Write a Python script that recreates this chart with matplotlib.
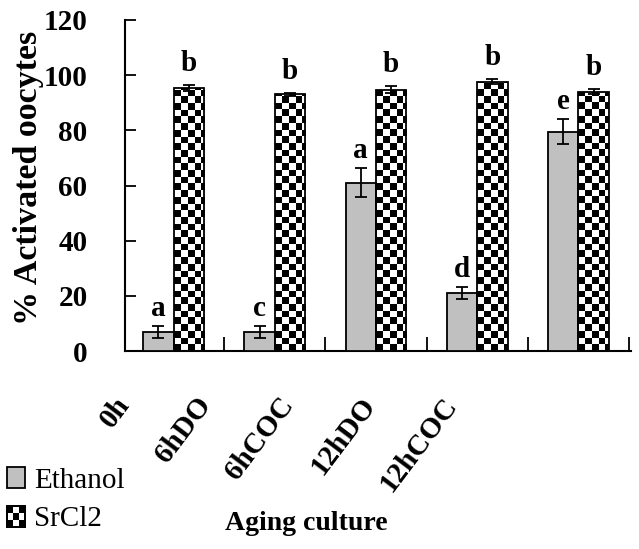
import numpy as np
import matplotlib
matplotlib.use('Agg')
import matplotlib.pyplot as plt
from matplotlib.patches import Rectangle, Patch
from matplotlib.legend_handler import HandlerBase

categories = ['0h', '6hDO', '6hCOC', '12hDO', '12hCOC']
ethanol = [7, 7, 61, 21, 79.5]
ethanol_err = [2.2, 2.2, 5.3, 2.2, 4.6]
srcl2 = [95.3, 93, 94.8, 97.7, 94]
srcl2_err = [1.0, 0.5, 1.2, 1.0, 1.0]
ethanol_letters = ['a', 'c', 'a', 'd', 'e']
srcl2_letters = ['b', 'b', 'b', 'b', 'b']

plt.rcParams['font.family'] = ['Liberation Serif', 'DejaVu Serif']

W, H = 639, 549
fig = plt.figure(figsize=(W / 100, H / 100), dpi=100)
ax = fig.add_axes([125 / W, 1 - 351 / H, (631 - 125) / W, (351 - 20) / H])
ax.set_xlim(-0.48, 4.52)
ax.set_ylim(0, 120)

x = np.arange(len(categories))
bw = 0.3
gray = '#c0c0c0'

ax.bar(x - bw / 2, ethanol, bw, color=gray, edgecolor='black', linewidth=1.3, zorder=3)
sr_bars = ax.bar(x + bw / 2, srcl2, bw, facecolor='none', edgecolor='black', linewidth=1.3, zorder=3)

# checkerboard fill for SrCl2 bars, clipped to each bar
cell = 6.7
for b in sr_bars:
    x0, y0 = b.get_x(), b.get_y()
    w, h = b.get_width(), b.get_height()
    p0 = ax.transData.transform((x0, y0))
    p1 = ax.transData.transform((x0 + w, y0 + h))
    nx = int(np.ceil((p1[0] - p0[0]) / cell))
    ny = int(np.ceil((p1[1] - p0[1]) / cell))
    dx = w / ((p1[0] - p0[0]) / cell)
    dy = h / ((p1[1] - p0[1]) / cell)
    board = (np.add.outer(np.arange(ny), np.arange(nx)) % 2).astype(float)
    im = ax.imshow(board, cmap='gray', vmin=0, vmax=1, interpolation='nearest',
                   extent=(x0, x0 + nx * dx, y0, y0 + ny * dy), origin='lower',
                   aspect='auto', zorder=2)
    im.set_clip_path(b)
ax.set_xlim(-0.48, 4.52)
ax.set_ylim(0, 120)

ax.errorbar(x - bw / 2, ethanol, yerr=ethanol_err, fmt='none', ecolor='black',
            elinewidth=1.3, capsize=4, capthick=1.3, zorder=4)
ax.errorbar(x + bw / 2, srcl2, yerr=srcl2_err, fmt='none', ecolor='black',
            elinewidth=1.3, capsize=4, capthick=1.3, zorder=4)

for i in range(len(categories)):
    ax.annotate(ethanol_letters[i], (x[i] - bw / 2, ethanol[i] + ethanol_err[i]),
                xytext=(0, 7), textcoords='offset points', ha='center', va='baseline',
                fontsize=21, fontweight='bold')
    ax.annotate(srcl2_letters[i], (x[i] + bw / 2, srcl2[i] + srcl2_err[i]),
                xytext=(0, 10), textcoords='offset points', ha='center', va='baseline',
                fontsize=21, fontweight='bold')

for s in ['top', 'right']:
    ax.spines[s].set_visible(False)
for s in ['left', 'bottom']:
    ax.spines[s].set_linewidth(1.5)

ax.set_yticks(range(0, 121, 20))
ax.tick_params(axis='y', direction='in', length=8, width=1.3, pad=27, labelsize=21)
for t in ax.get_yticklabels():
    t.set_fontweight('bold')
ax.set_xticks([])
ax.set_xticks(x + 0.5, minor=True)
ax.tick_params(axis='x', which='minor', direction='in', length=10, width=1.3)

fig.text(29 / W, 1 - 178 / H, '% Activated oocytes', rotation=90, ha='center', va='center',
         fontsize=24.5, fontweight='bold')

# rotated category labels
for i, c in enumerate(categories):
    fig.text((135 + 82 * i) / W, 1 - 392 / H, c, rotation=53, ha='right', va='top',
             fontsize=21, fontweight='bold')

fig.text(306 / W, 1 - 523 / H, 'Aging culture', ha='center', va='center',
         fontsize=20, fontweight='bold')


class CheckerHandler(HandlerBase):
    def create_artists(self, legend, orig_handle, xdescent, ydescent, width, height, fontsize, trans):
        arts = [Rectangle((-xdescent, -ydescent), width, height, facecolor='white',
                          edgecolor='black', lw=1.3, transform=trans)]
        n = 3
        cw, ch = width / n, height / n
        for i in range(n):
            for j in range(n):
                if (i + j) % 2 == 0:
                    arts.append(Rectangle((-xdescent + i * cw, -ydescent + j * ch), cw, ch,
                                          facecolor='black', lw=0, transform=trans))
        arts.append(Rectangle((-xdescent, -ydescent), width, height, facecolor='none',
                              edgecolor='black', lw=1.3, transform=trans))
        return arts


h_eth = Patch(facecolor=gray, edgecolor='black', linewidth=1.3)
h_sr = Patch(facecolor='white', edgecolor='black')
fig.legend([h_eth, h_sr], ['Ethanol', 'SrCl2'], loc='upper left',
           bbox_to_anchor=(7 / W, 1 - 467 / H), frameon=False, fontsize=21,
           handlelength=0.62, handleheight=0.75, handletextpad=0.3,
           labelspacing=0.4, borderpad=0, borderaxespad=0,
           handler_map={h_sr: CheckerHandler()})

fig.savefig('out.png', dpi=100)
